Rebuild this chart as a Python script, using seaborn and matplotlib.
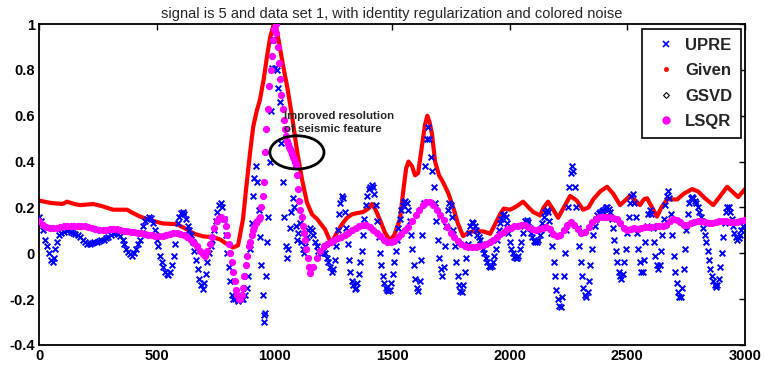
import numpy as np
import pandas as pd
import matplotlib
matplotlib.use("Agg")
import matplotlib.pyplot as plt
from matplotlib.lines import Line2D
from matplotlib.patches import Ellipse
import seaborn as sns

# ---------------- data ----------------
title = "signal is 5 and data set 1, with identity regularization and colored noise"
series_names = ["UPRE", "Given", "GSVD", "LSQR"]
x_ticks = [0, 500, 1000, 1500, 2000, 2500, 3000]
x_tick_labels = ["0", "500", "1000", "1500", "2000", "2500", "3000"]
y_ticks = [-0.4, -0.2, 0, 0.2, 0.4, 0.6, 0.8, 1.0]
y_tick_labels = ["-0.4", "-0.2", "0", "0.2", "0.4", "0.6", "0.8", "1"]
note_text = "Improved resolution\nof seismic feature"

given_x = [0, 47, 100, 119, 150, 175, 230, 270, 315, 374, 400, 430, 470, 527, 586, 629, 660, 697,
           740, 770, 799, 825, 846, 867, 880, 897, 910, 925, 939, 955, 969, 982, 995, 1005, 1020,
           1035, 1054, 1075, 1096, 1118, 1139, 1160, 1181, 1200, 1215, 1230, 1240, 1250, 1266, 1290,
           1309, 1330, 1351, 1377, 1400, 1415, 1430, 1449, 1470, 1492, 1510, 1534, 1550, 1560, 1570,
           1585, 1598, 1611, 1625, 1640, 1650, 1660, 1670, 1683, 1700, 1717, 1740, 1760, 1780, 1802,
           1825, 1845, 1870, 1890, 1917, 1935, 1959, 1975, 2002, 2030, 2057, 2080, 2100, 2129, 2145,
           2163, 2185, 2206, 2230, 2257, 2285, 2312, 2335, 2355, 2385, 2414, 2440, 2469, 2490, 2512,
           2535, 2554, 2570, 2584, 2605, 2626, 2645, 2669, 2690, 2712, 2740, 2775, 2800, 2830, 2865,
           2895, 2924, 2945, 2971, 3000]
given_y = [0.23, 0.22, 0.215, 0.225, 0.215, 0.21, 0.215, 0.205, 0.19, 0.19, 0.175, 0.16, 0.145, 0.13,
           0.127, 0.104, 0.085, 0.074, 0.07, 0.06, 0.04, 0.025, 0.035, 0.15, 0.28, 0.44, 0.55, 0.62,
           0.67, 0.76, 0.86, 0.94, 0.99, 1.0, 0.92, 0.83, 0.73, 0.6, 0.45, 0.32, 0.22, 0.17, 0.15,
           0.125, 0.105, 0.07, 0.045, 0.06, 0.09, 0.13, 0.155, 0.17, 0.175, 0.18, 0.195, 0.215, 0.19,
           0.145, 0.09, 0.055, 0.08, 0.15, 0.29, 0.37, 0.40, 0.38, 0.34, 0.35, 0.45, 0.56, 0.60, 0.57,
           0.52, 0.40, 0.34, 0.31, 0.26, 0.2, 0.13, 0.075, 0.09, 0.096, 0.096, 0.095, 0.085, 0.12,
           0.17, 0.195, 0.19, 0.205, 0.225, 0.2, 0.18, 0.165, 0.2, 0.225, 0.19, 0.155, 0.2, 0.25,
           0.23, 0.19, 0.2, 0.235, 0.27, 0.29, 0.26, 0.21, 0.23, 0.25, 0.23, 0.21, 0.235, 0.24, 0.2,
           0.16, 0.2, 0.235, 0.235, 0.235, 0.26, 0.28, 0.27, 0.24, 0.21, 0.25, 0.29, 0.27, 0.245, 0.28]

lsqr_x = [0, 15, 30, 45, 60, 75, 90, 105, 120, 135, 150, 165, 180, 195, 210, 225, 240, 255, 270, 285,
          300, 315, 330, 345, 360, 375, 390, 405, 420, 435, 450, 465, 480, 495, 510, 525, 540, 555,
          570, 585, 600, 615, 630, 645, 660, 672, 684, 695, 705, 715, 725, 735, 745, 755, 765, 775,
          785, 793, 800, 807, 813, 819, 825, 831, 837, 843, 849, 855, 861, 867, 873, 879, 885, 891,
          897, 903, 909, 915, 921, 927, 933, 939, 945, 950, 955, 960, 966, 972, 978, 984, 990, 995,
          1000, 1005, 1008, 1014, 1019, 1024, 1030, 1036, 1041, 1046, 1050, 1054, 1058, 1062, 1066,
          1070, 1074, 1078, 1082, 1086, 1090, 1094, 1098, 1102, 1106, 1111, 1116, 1121, 1126, 1131,
          1136, 1141, 1146, 1152, 1165, 1180, 1194, 1210, 1225, 1240, 1255, 1270, 1285, 1300, 1315,
          1330, 1345, 1360, 1375, 1390, 1405, 1420, 1435, 1450, 1465, 1480, 1495, 1510, 1525, 1540,
          1555, 1570, 1585, 1600, 1615, 1630, 1645, 1660, 1675, 1690, 1705, 1720, 1735, 1750, 1765,
          1780, 1795, 1810, 1825, 1840, 1855, 1870, 1885, 1900, 1915, 1930, 1945, 1960, 1975, 1990,
          2005, 2020, 2035, 2050, 2065, 2080, 2095, 2110, 2125, 2140, 2155, 2170, 2185, 2200, 2215,
          2230, 2245, 2260, 2275, 2290, 2305, 2320, 2335, 2350, 2365, 2380, 2395, 2410, 2425, 2440,
          2455, 2470, 2485, 2500, 2515, 2530, 2545, 2560, 2575, 2590, 2605, 2620, 2635, 2650, 2665,
          2680, 2695, 2710, 2725, 2740, 2755, 2770, 2785, 2800, 2815, 2830, 2845, 2860, 2875, 2890,
          2905, 2920, 2935, 2950, 2965, 2980, 2995]
lsqr_y = [0.14, 0.125, 0.115, 0.11, 0.11, 0.112, 0.115, 0.117, 0.118, 0.12, 0.12, 0.12, 0.12, 0.12,
          0.115, 0.11, 0.105, 0.1, 0.1, 0.102, 0.105, 0.105, 0.105, 0.1, 0.098, 0.096, 0.095, 0.093,
          0.09, 0.088, 0.085, 0.08, 0.078, 0.075, 0.074, 0.074, 0.078, 0.083, 0.088, 0.09, 0.085,
          0.078, 0.07, 0.06, 0.045, 0.03, 0.01, -0.005, -0.01, 0.01, 0.04, 0.07, 0.11, 0.14, 0.155,
          0.16, 0.15, 0.12, 0.08, 0.04, 0.0, -0.04, -0.08, -0.12, -0.16, -0.18, -0.2, -0.2, -0.18,
          -0.15, -0.1, -0.05, -0.01, 0.03, 0.05, 0.08, 0.1, 0.115, 0.13, 0.14, 0.15, 0.16, 0.2, 0.25,
          0.31, 0.44, 0.54, 0.63, 0.73, 0.8, 0.86, 0.93, 0.98, 1.0, 0.96, 0.9, 0.83, 0.76, 0.69, 0.63,
          0.58, 0.54, 0.51, 0.49, 0.475, 0.465, 0.455, 0.445, 0.435, 0.42, 0.41, 0.4, 0.39, 0.38,
          0.34, 0.28, 0.23, 0.19, 0.16, 0.12, 0.09, 0.06, 0.02, -0.02, -0.06, -0.085, -0.06, -0.02,
          0.01, 0.03, 0.04, 0.05, 0.06, 0.065, 0.07, 0.08, 0.09, 0.1, 0.11, 0.12, 0.125, 0.125,
          0.115, 0.1, 0.09, 0.075, 0.06, 0.05, 0.048, 0.055, 0.07, 0.085, 0.1, 0.115, 0.14, 0.165,
          0.19, 0.21, 0.225, 0.225, 0.21, 0.19, 0.165, 0.145, 0.115, 0.09, 0.07, 0.055, 0.04, 0.03,
          0.027, 0.026, 0.027, 0.03, 0.035, 0.042, 0.05, 0.06, 0.072, 0.085, 0.095, 0.105, 0.112,
          0.117, 0.12, 0.125, 0.122, 0.115, 0.105, 0.1, 0.105, 0.112, 0.115, 0.105, 0.085, 0.075,
          0.08, 0.1, 0.125, 0.135, 0.125, 0.105, 0.09, 0.095, 0.115, 0.135, 0.15, 0.16, 0.16, 0.16,
          0.158, 0.155, 0.15, 0.13, 0.11, 0.1, 0.105, 0.11, 0.108, 0.11, 0.113, 0.115, 0.115, 0.117,
          0.118, 0.12, 0.125, 0.14, 0.15, 0.145, 0.135, 0.125, 0.125, 0.13, 0.135, 0.14, 0.14, 0.135,
          0.13, 0.13, 0.135, 0.14, 0.14, 0.14, 0.138, 0.135, 0.135, 0.14, 0.145]

# GSVD is hidden underneath LSQR in the reference (identical solution)
gsvd_x = lsqr_x
gsvd_y = lsqr_y

upre_x = [0, 10, 17, 25, 34, 42, 50, 58, 64, 70, 78, 86, 95, 105, 115, 125, 135, 145, 155, 165, 175,
          185, 195, 205, 215, 225, 235, 245, 255, 265, 275, 285, 295, 305, 315, 325, 335, 345, 355,
          362, 370, 378, 386, 395, 404, 412, 420, 428, 436, 444, 452, 460, 468, 476, 484, 492, 500,
          507, 514, 521, 528, 535, 542, 550, 558, 565, 572, 578, 584, 590, 597, 604, 611, 618, 625,
          632, 639, 646, 653, 660, 667, 674, 681, 688, 695, 702, 709, 716, 723, 730, 737, 744, 751,
          758, 765, 772, 779, 786, 793, 800, 807, 813, 819, 826, 833, 840, 847, 854, 861, 868, 875,
          882, 890, 897, 903, 909, 915, 921, 927, 933, 939, 945, 950, 954, 958, 962, 966, 970, 975,
          980, 984, 990, 996, 1003, 1010, 1017, 1024, 1030, 1036, 1042, 1048, 1054, 1060, 1066,
          1072, 1078, 1084, 1090, 1096, 1102, 1108, 1114, 1120, 1126, 1132, 1138, 1145, 1152, 1159,
          1166, 1173, 1180, 1187, 1194, 1201, 1208, 1215, 1222, 1229, 1236, 1243, 1250, 1257, 1263,
          1269, 1275, 1281, 1287, 1293, 1299, 1305, 1311, 1317, 1323, 1329, 1335, 1341, 1347, 1353,
          1359, 1365, 1371, 1377, 1383, 1389, 1395, 1401, 1407, 1413, 1419, 1425, 1431, 1437, 1443,
          1449, 1455, 1461, 1467, 1473, 1479, 1485, 1491, 1497, 1503, 1509, 1515, 1521, 1527, 1533,
          1539, 1545, 1551, 1557, 1563, 1569, 1575, 1581, 1587, 1593, 1599, 1605, 1611, 1617, 1623,
          1629, 1635, 1641, 1647, 1653, 1659, 1665, 1671, 1677, 1683, 1689, 1695, 1701, 1707, 1713,
          1719, 1725, 1731, 1737, 1743, 1749, 1755, 1761, 1767, 1773, 1779, 1785, 1791, 1797, 1803,
          1809, 1815, 1821, 1827, 1833, 1839, 1845, 1851, 1857, 1863, 1869, 1875, 1881, 1887, 1893,
          1899, 1905, 1911, 1917, 1923, 1929, 1935, 1941, 1947, 1953, 1959, 1965, 1971, 1977, 1983,
          1989, 1995, 2001, 2007, 2013, 2019, 2025, 2031, 2037, 2043, 2049, 2055, 2061, 2067, 2073,
          2079, 2085, 2091, 2097, 2103, 2109, 2115, 2121, 2127, 2133, 2139, 2145, 2151, 2157, 2163,
          2169, 2175, 2181, 2187, 2193, 2199, 2205, 2211, 2217, 2223, 2229, 2235, 2241, 2247, 2253,
          2259, 2265, 2271, 2277, 2283, 2289, 2295, 2301, 2307, 2313, 2319, 2325, 2331, 2337, 2343,
          2349, 2355, 2361, 2367, 2373, 2379, 2385, 2391, 2397, 2403, 2409, 2415, 2421, 2427, 2433,
          2439, 2445, 2451, 2457, 2463, 2469, 2475, 2481, 2487, 2493, 2499, 2505, 2511, 2517, 2523,
          2529, 2535, 2541, 2547, 2553, 2559, 2565, 2571, 2577, 2583, 2589, 2595, 2601, 2607, 2613,
          2619, 2625, 2631, 2637, 2643, 2649, 2655, 2661, 2667, 2673, 2679, 2685, 2691, 2697, 2703,
          2709, 2715, 2721, 2727, 2733, 2739, 2745, 2751, 2757, 2763, 2769, 2775, 2781, 2787, 2793,
          2799, 2805, 2811, 2817, 2823, 2829, 2835, 2841, 2847, 2853, 2859, 2865, 2871, 2877, 2883,
          2889, 2895, 2901, 2907, 2913, 2919, 2925, 2931, 2937, 2943, 2949, 2955, 2961, 2967, 2973,
          2979, 2985, 2991, 2997]
upre_y = [0.16, 0.14, 0.1, 0.06, 0.03, 0.0, -0.03, -0.04, -0.02, 0.02, 0.05, 0.08, 0.09, 0.095, 0.1,
          0.1, 0.095, 0.09, 0.085, 0.08, 0.07, 0.06, 0.05, 0.04, 0.04, 0.045, 0.05, 0.05, 0.055, 0.06,
          0.06, 0.065, 0.07, 0.08, 0.09, 0.09, 0.085, 0.075, 0.06, 0.04, 0.02, 0.005, -0.005, -0.01,
          0.0, 0.02, 0.04, 0.06, 0.09, 0.12, 0.14, 0.15, 0.16, 0.155, 0.13, 0.1, 0.06, 0.03, -0.01,
          -0.04, -0.06, -0.08, -0.09, -0.095, -0.08, -0.05, -0.01, 0.04, 0.09, 0.13, 0.16, 0.175,
          0.18, 0.17, 0.15, 0.12, 0.1, 0.08, 0.05, 0.01, -0.03, -0.07, -0.11, -0.14, -0.155, -0.13,
          -0.09, -0.04, 0.0, 0.03, 0.06, 0.1, 0.14, 0.18, 0.21, 0.22, 0.2, 0.15, 0.08, 0.0, -0.06,
          -0.12, -0.18, -0.2, -0.2, -0.19, -0.21, -0.2, -0.2, -0.2, -0.18, -0.15, -0.1, 0.02, 0.13,
          0.25, 0.33, 0.38, 0.31, 0.19, 0.07, -0.05, -0.18, -0.27, -0.3, -0.26, -0.1, 0.05, 0.16, 0.4,
          0.62, 0.81, 0.93, 0.81, 0.8, 0.72, 0.66, 0.48, 0.31, 0.16, 0.03, -0.02, 0.02, 0.11, 0.18,
          0.24, 0.2, 0.12, 0.06, 0.09, 0.13, 0.05, 0.02, 0.0, 0.03, 0.07, 0.1, 0.11, 0.1, 0.08, 0.05,
          0.03, 0.01, 0.0, 0.0, 0.01, 0.0, -0.02, -0.04, -0.06, -0.08, -0.07, -0.03, 0.03, 0.1, 0.17,
          0.22, 0.25, 0.24, 0.18, 0.11, 0.04, -0.03, -0.08, -0.12, -0.14, -0.155, -0.15, -0.13, -0.09,
          -0.04, 0.01, 0.08, 0.15, 0.21, 0.25, 0.28, 0.29, 0.3, 0.29, 0.26, 0.21, 0.14, 0.07, 0.0,
          -0.05, -0.1, -0.13, -0.15, -0.16, -0.165, -0.16, -0.13, -0.09, -0.04, 0.01, 0.06, 0.11,
          0.15, 0.19, 0.21, 0.225, 0.23, 0.22, 0.19, 0.14, 0.08, 0.02, -0.05, -0.11, -0.15, -0.165,
          -0.12, -0.03, 0.08, 0.22, 0.38, 0.5, 0.55, 0.5, 0.42, 0.36, 0.29, 0.22, 0.14, 0.06, -0.02,
          -0.07, -0.1, -0.06, 0.03, 0.12, 0.19, 0.22, 0.21, 0.16, 0.1, 0.03, -0.04, -0.1, -0.14,
          -0.165, -0.17, -0.14, -0.08, -0.02, 0.04, 0.09, 0.12, 0.135, 0.13, 0.12, 0.1, 0.08, 0.07,
          0.06, 0.04, 0.02, 0.0, -0.02, -0.04, -0.055, -0.06, -0.055, -0.04, -0.01, 0.02, 0.06, 0.1,
          0.13, 0.15, 0.165, 0.17, 0.16, 0.13, 0.09, 0.05, 0.02, 0.0, -0.015, -0.02, -0.02, -0.01,
          0.02, 0.05, 0.09, 0.12, 0.14, 0.145, 0.135, 0.11, 0.09, 0.07, 0.055, 0.05, 0.05, 0.06, 0.08,
          0.1, 0.13, 0.16, 0.18, 0.19, 0.18, 0.14, 0.09, 0.03, -0.04, -0.1, -0.16, -0.2, -0.23, -0.235,
          -0.19, -0.1, 0.0, 0.1, 0.2, 0.29, 0.35, 0.38, 0.36, 0.29, 0.2, 0.11, 0.03, -0.04, -0.1,
          -0.15, -0.18, -0.19, -0.17, -0.12, -0.05, 0.02, 0.08, 0.12, 0.15, 0.165, 0.175, 0.18, 0.185,
          0.19, 0.195, 0.2, 0.2, 0.195, 0.18, 0.15, 0.11, 0.06, 0.01, -0.04, -0.08, -0.1, -0.11,
          -0.09, -0.04, 0.02, 0.09, 0.16, 0.22, 0.25, 0.26, 0.22, 0.16, 0.09, 0.02, -0.04, -0.08,
          -0.08, -0.03, 0.05, 0.12, 0.17, 0.19, 0.17, 0.11, 0.05, -0.01, -0.05, -0.07, -0.05, 0.01,
          0.08, 0.15, 0.21, 0.25, 0.27, 0.24, 0.17, 0.08, -0.01, -0.08, -0.13, -0.17, -0.19, -0.19,
          -0.15, -0.07, 0.02, 0.1, 0.17, 0.22, 0.24, 0.245, 0.24, 0.23, 0.22, 0.2, 0.18, 0.16, 0.14,
          0.11, 0.08, 0.05, 0.01, -0.03, -0.07, -0.1, -0.12, -0.14, -0.145, -0.14, -0.11, -0.06, 0.0,
          0.07, 0.13, 0.18, 0.2, 0.2, 0.18, 0.15, 0.12, 0.09, 0.07, 0.06, 0.065, 0.08, 0.1, 0.12, 0.14]

# ---------------- styling / drawing ----------------
sns.set_theme(style="white")
plt.rcParams["font.family"] = ["Liberation Sans", "DejaVu Sans"]

fig = plt.figure(figsize=(7.64, 3.67), dpi=100)
ax = fig.add_axes([39 / 764, 22 / 367, (745 - 39) / 764, (343 - 22) / 367])

blue = "#0000ff"
red = "#ff0000"
magenta = "#ff00ff"

sns.lineplot(x=given_x, y=given_y, color=red, linewidth=3.0, sort=False, ax=ax, zorder=2)
sns.scatterplot(x=upre_x, y=upre_y, marker="x", color=blue, s=17, linewidth=1.4, ax=ax, zorder=3)
sns.scatterplot(x=gsvd_x, y=gsvd_y, marker="D", facecolor="none", edgecolor="black", s=4,
                linewidth=0.6, ax=ax, zorder=3.5)
sns.scatterplot(x=lsqr_x, y=lsqr_y, marker="o", color=magenta, s=27, linewidth=0, ax=ax, zorder=4)

ax.set_xlim(0, 3000)
ax.set_ylim(-0.4, 1.0)
ax.set_xticks(x_ticks)
ax.set_xticklabels(x_tick_labels)
ax.set_yticks(y_ticks)
ax.set_yticklabels(y_tick_labels)
ax.tick_params(direction="in", length=4, width=1, top=True, right=True, labelsize=10.5, pad=3,
               colors="black")
for lab in ax.get_xticklabels() + ax.get_yticklabels():
    lab.set_fontweight("bold")
for sp in ax.spines.values():
    sp.set_visible(True)
    sp.set_color("black")
    sp.set_linewidth(1.3)
ax.set_xlabel("")
ax.set_ylabel("")

ax.set_title(title, fontsize=10.5, pad=4,
             family=["Liberation Sans Narrow", "Liberation Sans", "DejaVu Sans"])

# annotation
ax.add_patch(Ellipse((1096, 0.44), 230, 0.145, fill=False, edgecolor="black", linewidth=2,
                     zorder=6))
ax.text(1040, 0.57, note_text, fontsize=8.2, fontweight="bold", ha="left", va="center",
        linespacing=1.45, family=["Liberation Sans Narrow", "Liberation Sans", "DejaVu Sans"],
        zorder=7)

handles = [
    Line2D([], [], linestyle="none", marker="x", color=blue, markersize=4, markeredgewidth=1.2),
    Line2D([], [], linestyle="none", marker=".", color=red, markersize=5),
    Line2D([], [], linestyle="none", marker="D", markerfacecolor="none", markeredgecolor="black",
           markersize=3, markeredgewidth=0.8),
    Line2D([], [], linestyle="none", marker="o", color=magenta, markersize=5),
]
leg = ax.legend(handles, series_names, loc="upper right", bbox_to_anchor=(0.995, 0.985),
                frameon=True, fancybox=False, edgecolor="black", framealpha=1,
                prop={"weight": "bold", "size": 12}, handletextpad=0.25, handlelength=1.8,
                labelspacing=0.62, borderpad=0.55, borderaxespad=0)
leg.get_frame().set_linewidth(1.2)
leg.set_zorder(10)

fig.savefig("out.png", dpi=100)
